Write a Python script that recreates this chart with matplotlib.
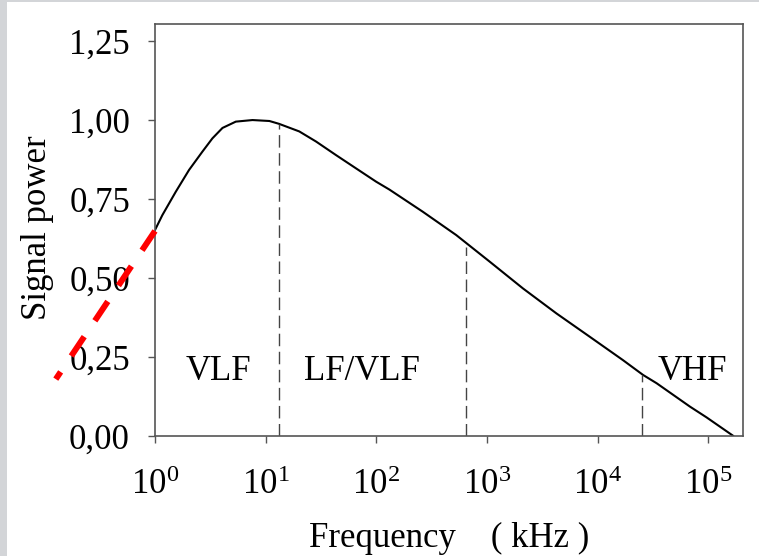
import matplotlib
matplotlib.use("Agg")
import matplotlib.pyplot as plt
from matplotlib.patches import Rectangle
from matplotlib.ticker import NullLocator

plt.rcParams['font.family'] = ['Liberation Serif', 'DejaVu Serif']
plt.rcParams['mathtext.fontset'] = 'custom'
plt.rcParams['mathtext.rm'] = 'Liberation Serif'
plt.rcParams['mathtext.it'] = 'Liberation Serif:italic'

# signal power vs frequency (kHz)
freq = [1, 1.165, 1.54, 2.03, 2.68, 3.30, 4.07, 5.37, 7.6, 10.8, 13.2, 20.1,
        28.5, 43.2, 65.5, 99.4, 131, 262, 526, 1054, 2110, 4230, 8470, 16900,
        25700, 34000, 68000, 96000, 168000]
power = [0.652, 0.699, 0.773, 0.842, 0.900, 0.942, 0.975, 0.995, 1.0, 0.997,
         0.988, 0.964, 0.932, 0.889, 0.847, 0.805, 0.780, 0.710, 0.636, 0.552,
         0.467, 0.388, 0.314, 0.240, 0.193, 0.167, 0.093, 0.059, 0.0]

# band boundaries (dashed verticals)
band_x = [13.2, 650, 25000]
band_top = [0.988, 0.598, 0.193]

band_names = ['VLF', 'LF/VLF', 'VHF']
band_name_x = [3.76, 74.7, 71600]
band_name_y = 0.177

# extrapolation below 1 kHz
extra_x = [1.0, 0.127]
extra_y = [0.649, 0.18]

yticks = [0, 0.25, 0.5, 0.75, 1.0, 1.25]
xticks = [1, 10, 100, 1000, 10000, 100000]

fig = plt.figure(figsize=(7.59, 5.56), dpi=100)
fig.patch.set_facecolor('white')
fig.patches.append(Rectangle((0, 0), 7 / 759, 1, transform=fig.transFigure,
                             facecolor='#d3d5d8', edgecolor='none', zorder=0))
fig.patches.append(Rectangle((0, 1 - 2 / 556), 1, 2 / 556, transform=fig.transFigure,
                             facecolor='#d3d5d8', edgecolor='none', zorder=0))

ax = fig.add_axes([155 / 759, 1 - 436 / 556, (743 - 155) / 759, (436 - 24) / 556])
ax.set_xscale('log')
ax.plot(freq, power, color='black', lw=1.5, solid_capstyle='round',
        solid_joinstyle='round')

for bx, bt in zip(band_x, band_top):
    ax.plot([bx, bx], [0, bt], color='#444444', lw=1.0, dashes=(9, 4))

for name, nx in zip(band_names, band_name_x):
    ax.text(nx, band_name_y, name, fontsize=25, ha='center', va='baseline')

ax.plot(extra_x, extra_y, color='red', lw=4.3, dashes=(3.9, 3.2),
        solid_capstyle='butt', dash_capstyle='butt', clip_on=False, zorder=5)

ax.set_xlim(1, 2.05e5)
ax.set_ylim(0, 1.304)
ax.set_xticks(xticks)
ax.xaxis.set_minor_locator(NullLocator())
ax.set_xticklabels([r'$\mathdefault{10^{%d}}$' % k for k in range(6)])
ax.set_yticks(yticks)
ax.set_yticklabels([('%.2f' % v).replace('.', ',') for v in yticks])

for s in ax.spines.values():
    s.set_color('#555555')
    s.set_linewidth(1.2)
ax.tick_params(axis='both', direction='out', length=5, width=1, color='#555555',
               labelsize=25)
ax.tick_params(axis='y', pad=13)
ax.tick_params(axis='x', pad=19)

fig.text(38 / 759, 1 - 228 / 556, 'Signal power', rotation=90, fontsize=25,
         ha='center', va='center')
fig.text(449 / 759, 9 / 556, 'Frequency    ( kHz )', fontsize=25,
         ha='center', va='baseline')

fig.savefig('out.png', dpi=100)
